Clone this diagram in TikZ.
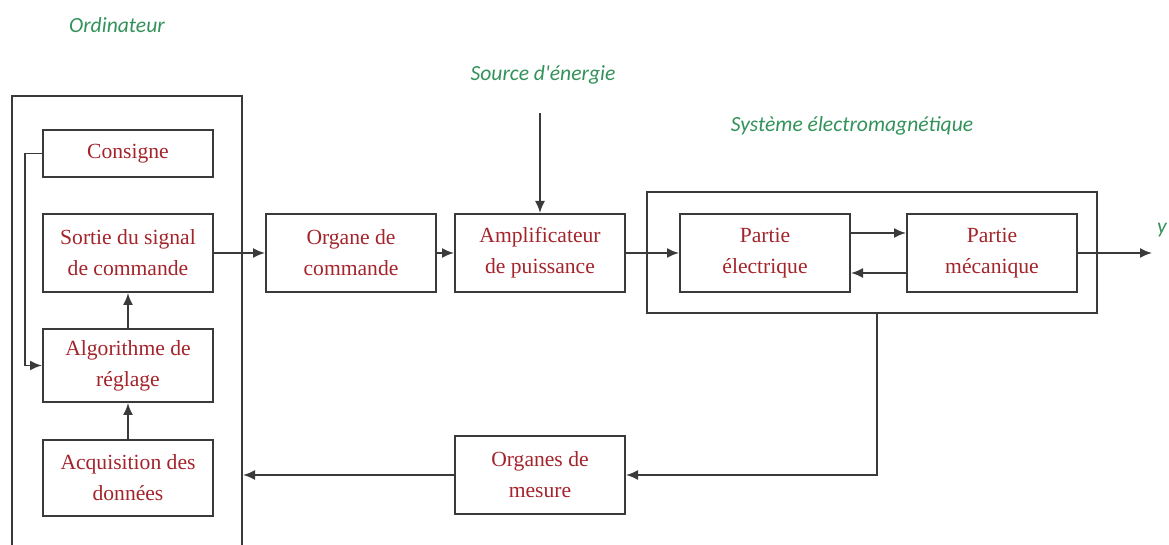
\documentclass[tikz,border=0pt]{standalone}
\usepackage{fontspec}
\setmainfont{Liberation Serif}
\newfontfamily\labelfont{Carlito}
\usepackage{tikz}
\usetikzlibrary{positioning,arrows.meta}
\definecolor{boxred}{HTML}{A3242B}
\definecolor{labelgreen}{HTML}{33925A}
\definecolor{linegray}{HTML}{3A3A3A}

\begin{document}
\begin{tikzpicture}[
  x=0.5pt, y=-0.5pt,
  box/.style={draw=linegray, line width=1pt,
              minimum width=85pt, minimum height=39pt, inner sep=1pt,
              font=\fontsize{10.8}{15.5}\selectfont, align=center, text=boxred},
  frame/.style={draw=linegray, line width=1pt, inner sep=0pt},
  tag/.style={font=\labelfont\itshape\fontsize{10.8}{12}\selectfont, text=labelgreen},
  arrow/.style={->, >={Latex[length=6pt,width=5pt]}, line width=0.9pt, color=linegray},
  node distance=25.5pt
]
\useasboundingbox (0,0) rectangle (1169,545);

% --- outer frames ---
\node[frame, minimum width=115pt, minimum height=227pt] (ordi) at (127,323) {};
\node[frame, minimum width=225pt, minimum height=60.5pt] (sys) at (872,252.5) {};

% --- Ordinateur ---
\node[box] (sortie) at (128,253) {Sortie du signal\\de commande};
\node[box, minimum height=23.5pt, above=17.5pt of sortie] (consigne) {Consigne};
\node[box, minimum height=36.5pt, below=17.5pt of sortie] (algo) {Algorithme de\\réglage};
\node[box, minimum height=38pt, below=18pt of algo] (acq) {Acquisition des\\données};
\draw[arrow] (consigne.west) -- ++(-17,0) |- (algo.west);
\draw[arrow] (algo) -- (sortie);
\draw[arrow] (acq) -- (algo);

% --- chaine directe ---
\node[box, right=of sortie] (organe) {Organe de\\commande};
\node[box, right=8.5pt of organe] (ampli) {Amplificateur\\de puissance};
\node[box, right=26.5pt of ampli] (elec) {Partie\\électrique};
\node[box, right=27.5pt of elec] (meca) {Partie\\mécanique};
\draw[arrow] (sortie) -- (organe);
\draw[arrow] (organe) -- (ampli);
\draw[arrow] (ampli) -- (elec);
\draw[arrow] ([yshift=10pt]elec.east) -- ([yshift=10pt]meca.west);
\draw[arrow] ([yshift=-10pt]meca.west) -- ([yshift=-10pt]elec.east);

% --- source et sortie y ---
\coordinate[above=50pt of ampli.north] (srcin);
\draw[arrow] (srcin) -- (ampli.north);
\coordinate (yout) at (1152,253);
\draw[arrow] (meca) -- (yout);

% --- retour ---
\node[box, below=71pt of ampli] (mesure) {Organes de\\mesure};
\coordinate (fbtap) at (877,313);
\draw[arrow] (fbtap) |- (mesure.east);
\draw[arrow] (mesure.west) -- (mesure.west -| ordi.east);

% --- labels ---
\node[tag] (ordilabel) at (117,25) {Ordinateur};
\node[tag] (source) at (543,75) {Source d'énergie};
\node[tag] (syslabel) at (852,126) {Système électromagnétique};
\node[tag] (ylabel) at (1162,230) {y};

\end{tikzpicture}
\end{document}
